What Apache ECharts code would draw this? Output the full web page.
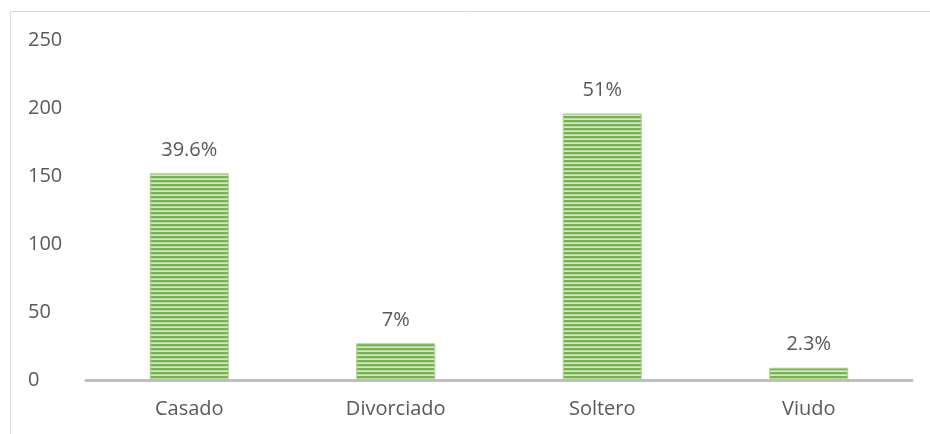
<!DOCTYPE html>
<html>
<head>
<meta charset="utf-8">
<script src="https://cdn.jsdelivr.net/npm/echarts@6/dist/echarts.min.js"></script>
<style>
  html, body { margin: 0; padding: 0; background: #ffffff; }
  #chart { width: 930px; height: 434px; }
</style>
</head>
<body>
<div id="chart"></div>
<script>
// Estado civil: número de personas y su porcentaje
const categories = ['Casado', 'Divorciado', 'Soltero', 'Viudo'];
const counts = [152, 27, 196, 9];
const percentLabels = ['39.6%', '7%', '51%', '2.3%'];
const yTicks = [0, 50, 100, 150, 200, 250];

// Horizontal green stripe fill for the bars
function stripePattern() {
  const c = document.createElement('canvas');
  c.width = 8; c.height = 4;
  const ctx = c.getContext('2d');
  ctx.fillStyle = '#d4e9c6';
  ctx.fillRect(0, 0, 8, 4);
  ctx.fillStyle = '#77b450';
  ctx.fillRect(0, 0, 8, 2);
  ctx.fillStyle = '#a3cf86';
  ctx.fillRect(0, 2, 8, 0.6);
  return c;
}

const chart = echarts.init(document.getElementById('chart'), null, { renderer: 'canvas' });
const textColor = '#595959';
const fontFamily = '"Open Sans", "Noto Sans", sans-serif';
const fontSize = 20;

chart.setOption({
  animation: false,
  backgroundColor: '#ffffff',
  graphic: [{
    type: 'rect',
    shape: { x: 10.5, y: 11.5, width: 940, height: 440 },
    style: { fill: 'none', stroke: '#d9d9d9', lineWidth: 1 },
    silent: true
  }],
  grid: { left: 86, right: 18, top: 40, bottom: 54 },
  xAxis: {
    type: 'category',
    data: categories,
    axisLine: { lineStyle: { color: '#bfbfbf', width: 3 } },
    axisTick: { show: false },
    axisLabel: { color: textColor, fontSize: fontSize, fontFamily: fontFamily, margin: 19 }
  },
  yAxis: {
    type: 'value',
    min: yTicks[0],
    max: yTicks[yTicks.length - 1],
    interval: yTicks[1] - yTicks[0],
    splitLine: { show: false },
    axisLine: { show: false },
    axisTick: { show: false },
    axisLabel: { color: textColor, fontSize: fontSize, fontFamily: fontFamily, align: 'left', margin: 58 }
  },
  series: [{
    type: 'bar',
    data: counts,
    barWidth: 79,
    itemStyle: {
      color: { image: stripePattern(), repeat: 'repeat' },
      borderColor: '#a9d18e',
      borderWidth: 1
    },
    label: {
      show: true,
      position: 'top',
      distance: 13,
      color: textColor,
      fontSize: fontSize,
      fontFamily: fontFamily,
      formatter: p => percentLabels[p.dataIndex]
    }
  }]
});
</script>
</body>
</html>
